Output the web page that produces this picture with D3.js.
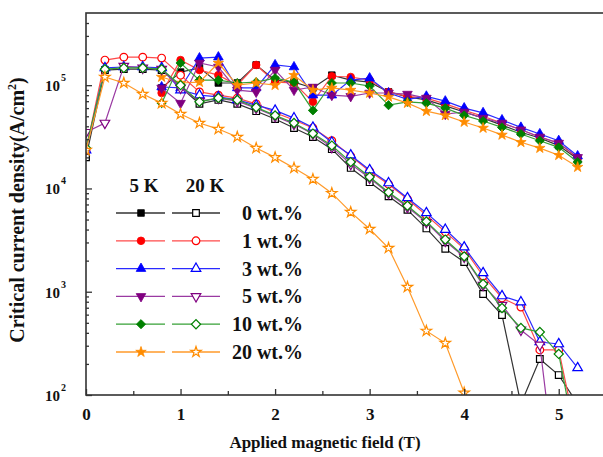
<!DOCTYPE html>
<html>
<head>
<meta charset="utf-8">
<script src="https://cdn.jsdelivr.net/npm/d3@7"></script>
<style>
  body { margin: 0; background: #fff; }
  text { font-family: "Liberation Serif", "Times New Roman", serif; font-weight: bold; fill: #111; }
</style>
</head>
<body>
<div id="chart"></div>
<script>
(function () {

  // field values (T)
  const field20K = [0, 0.2, 0.4, 0.6, 0.8, 1.0, 1.2, 1.4, 1.6, 1.8, 2.0, 2.2, 2.4, 2.6, 2.8, 3.0, 3.2, 3.4, 3.6, 3.8, 4.0, 4.2, 4.4, 4.6, 4.8, 5.0, 5.2]
  const field5K = [0.8, 1.0, 1.2, 1.4, 1.6, 1.8, 2.0, 2.2, 2.4, 2.6, 2.8, 3.0, 3.2, 3.4, 3.6, 3.8, 4.0, 4.2, 4.4, 4.6, 4.8, 5.0, 5.2]

  // Jc at 5 K (A/cm2)
  const jc5K_0 = [9.4e4, 1.34e5, 1.47e5, 1.05e5, 1.05e5, 1.57e5, 1.12e5, 1.07e5, 9.4e4, 1.25e5, 1.12e5, 1.07e5, 8.6e4, 7.7e4, 7.2e4, 6.3e4, 5.5e4, 4.8e4, 4.1e4, 3.5e4, 3.08e4, 2.6e4, 1.93e4]
  const jc5K_1 = [8.4e4, 1.75e5, 1.40e5, 1.25e5, 1.0e5, 1.57e5, 1.07e5, 1.05e5, 6.9e4, 1.22e5, 1.2e5, 1.12e5, 8.6e4, 7.8e4, 7.5e4, 6.6e4, 5.7e4, 5.0e4, 4.3e4, 3.7e4, 3.15e4, 2.75e4, 1.97e4]
  const jc5K_3 = [9.6e4, 9.4e4, 1.83e5, 1.87e5, 9.4e4, 9.4e4, 1.57e5, 1.50e5, 8.0e4, 8.0e4, 1.12e5, 1.17e5, 8.4e4, 7.3e4, 7.8e4, 7.0e4, 6.0e4, 5.4e4, 4.6e4, 3.9e4, 3.37e4, 2.9e4, 2.06e4]
  const jc5K_5 = [9.4e4, 6.7e4, 1.64e5, 1.50e5, 8.97e4, 8.6e4, 1.40e5, 8.97e4, 9.6e4, 8.0e4, 7.8e4, 8.4e4, 8.4e4, 8.2e4, 7.5e4, 5.25e4, 5.5e4, 4.8e4, 4.3e4, 3.7e4, 3.15e4, 2.75e4, 2.0e4]
  const jc5K_10 = [6.7e4, 1.64e5, 1.12e5, 1.12e5, 1.05e5, 1.07e5, 1.17e5, 1.07e5, 5.7e4, 1.05e5, 1.05e5, 9.8e4, 6.4e4, 6.9e4, 6.7e4, 6.0e4, 5.1e4, 4.5e4, 3.9e4, 3.37e4, 2.9e4, 2.5e4, 1.8e4]
  const jc5K_20 = [1.2e5, 1.05e5, 1.07e5, 1.64e5, 1.0e5, 1.05e5, 1.0e5, 1.25e5, 8.97e4, 9.4e4, 8.97e4, 8.4e4, 7.7e4, 6.7e4, 5.6e4, 5.1e4, 4.4e4, 3.85e4, 3.3e4, 2.8e4, 2.46e4, 2.1e4, 1.61e4]

  // Jc at 20 K
  const jc20K_0 = [2.0e4, 1.40e5, 1.43e5, 1.43e5, 1.40e5, 9.6e4, 6.6e4, 7.2e4, 6.6e4, 5.6e4, 4.7e4, 3.85e4, 3.15e4, 2.4e4, 1.58e4, 1.15e4, 8.4e3, 6.2e3, 4.1e3, 2.6e3, 1.94e3, 950, 595, 82, 223, 156, 82]
  const jc20K_1 = [2.35e4, 1.75e5, 1.87e5, 1.87e5, 1.83e5, 1.25e5, 8.6e4, 8.0e4, 7.5e4, 6.6e4, 5.4e4, 4.6e4, 3.85e4, 2.9e4, 2.06e4, 1.47e4, 1.10e4, 7.9e3, 5.5e3, 3.8e3, 2.6e3, 1.42e3, 870, 711, 273, 273, 37]
  const jc20K_3 = [2.35e4, 1.47e5, 1.50e5, 1.50e5, 1.47e5, 8.97e4, 8.0e4, 7.7e4, 7.2e4, 6.4e4, 5.7e4, 4.8e4, 3.9e4, 2.8e4, 2.1e4, 1.51e4, 1.13e4, 8.1e3, 5.8e3, 4.0e3, 2.7e3, 1.52e3, 910, 794, 326, 312, 183]
  const jc20K_5 = [3.5e4, 4.3e4, 1.53e5, 1.47e5, 1.43e5, 9.4e4, 7.0e4, 7.5e4, 7.0e4, 6.0e4, 5.0e4, 4.2e4, 3.37e4, 2.5e4, 1.72e4, 1.26e4, 9.0e3, 6.6e3, 4.7e3, 3.1e3, 2.17e3, 1.16e3, 743, 426, 305, 9.4]
  const jc20K_10 = [2.46e4, 1.43e5, 1.47e5, 1.47e5, 1.43e5, 1.0e5, 6.9e4, 7.5e4, 7.2e4, 6.1e4, 5.1e4, 4.3e4, 3.4e4, 2.6e4, 1.8e4, 1.29e4, 9.2e3, 6.8e3, 4.8e3, 3.2e3, 2.2e3, 1.19e3, 695, 446, 407, 250, 28]
  const jc20K_20 = [2.35e4, 1.2e5, 1.05e5, 8.2e4, 6.7e4, 5.25e4, 4.3e4, 3.76e4, 3.15e4, 2.46e4, 2.0e4, 1.58e4, 1.23e4, 9.0e3, 5.9e3, 4.05e3, 2.65e3, 1.11e3, 417, 318, 105]

  const labels = ['0 wt.%', '1 wt.%', '3 wt.%', '5 wt.%', '10 wt.%', '20 wt.%']
  const xTicks = [0, 1, 2, 3, 4, 5]
  const yTicks = [1e2, 1e3, 1e4, 1e5]

  const markerColors = ['#000000', '#ff0000', '#0000ff', '#800080', '#008000', '#ff8c00']
  const lineColors = ['#333333', '#ff4a4a', '#2a2aff', '#9a3aa2', '#36a036', '#ff9a2a']
  const shapes = ['square', 'circle', 'up', 'down', 'diamond', 'star']
  const jc5 = [jc5K_0, jc5K_1, jc5K_3, jc5K_5, jc5K_10, jc5K_20]
  const jc20 = [jc20K_0, jc20K_1, jc20K_3, jc20K_5, jc20K_10, jc20K_20]

  // Margin convention
  const margin = { top: 13, left: 86 }
  const width = 520
  const height = 382

  const svg = d3.select('#chart').append('svg')
      .attr('width', 603)
      .attr('height', 457)

  const g = svg.append('g')
      .attr('transform', 'translate(' + margin.left + ',' + margin.top + ')')

  const x = d3.scaleLinear().domain([0, 5.5]).range([0, width])
  const y = d3.scaleLog().domain([1e2, 5e5]).range([height, 0])

  svg.append('defs').append('clipPath').attr('id', 'plot')
    .append('rect').attr('width', width).attr('height', height)

  const symbols = {
    square: { type: d3.symbolSquare, size: 44, rot: 0 },
    circle: { type: d3.symbolCircle, size: 46, rot: 0 },
    up: { type: d3.symbolTriangle, size: 40, rot: 0 },
    down: { type: d3.symbolTriangle, size: 40, rot: 180 },
    diamond: { type: d3.symbolSquare, size: 42, rot: 45 },
    star: { type: d3.symbolStar, size: 34, rot: 0 }
  }

  function drawMarker (sel, shape, color, open) {
    const s = symbols[shape]
    sel.append('path')
      .attr('d', d3.symbol().type(s.type).size(s.size)())
      .attr('transform', 'rotate(' + s.rot + ')')
      .attr('fill', open ? '#ffffff' : color)
      .attr('stroke', color)
      .attr('stroke-width', open ? 1.2 : 0.8)
  }

  const line = d3.line()
    .x(d => x(d.b))
    .y(d => y(d.jc))

  const series = []
  labels.forEach((lab, i) => {
    series.push({ i: i, open: false, pts: jc5[i].map((v, k) => ({ b: field5K[k], jc: v })) })
  })
  labels.forEach((lab, i) => {
    series.push({ i: i, open: true, pts: jc20[i].map((v, k) => ({ b: field20K[k], jc: v })) })
  })

  const plot = g.append('g').attr('clip-path', 'url(#plot)')

  series.forEach(s => {
    const sg = plot.append('g')
    sg.append('path')
      .attr('d', line(s.pts))
      .attr('fill', 'none')
      .attr('stroke', lineColors[s.i])
      .attr('stroke-width', 1.2)

    sg.selectAll('g.pt')
      .data(s.pts.filter(d => d.jc >= 100))
      .join('g')
      .attr('class', 'pt')
      .attr('transform', d => 'translate(' + x(d.b) + ',' + y(d.jc) + ')')
      .each(function () {
        drawMarker(d3.select(this), shapes[s.i], markerColors[s.i], s.open)
      })
  })

  // axes
  const minorY = []
  for (let e = 2; e <= 5; e++) {
    for (let m = 2; m <= 9; m++) {
      const v = m * Math.pow(10, e)
      if (v < 5e5) minorY.push(v)
    }
  }

  g.append('g')
    .call(d3.axisLeft(y).tickValues(minorY).tickSize(-3).tickFormat(''))
  g.append('g')
    .call(d3.axisLeft(y).tickValues(yTicks).tickSize(-6).tickFormat(''))

  g.append('g')
    .attr('transform', 'translate(0,' + height + ')')
    .call(d3.axisBottom(x).tickValues([0.5, 1.5, 2.5, 3.5, 4.5, 5.5]).tickSize(-4).tickFormat(''))
  g.append('g')
    .attr('transform', 'translate(0,' + height + ')')
    .call(d3.axisBottom(x).tickValues(xTicks).tickSize(-6).tickPadding(13).tickFormat(d3.format('d')))

  g.selectAll('.domain').remove()
  g.selectAll('.tick line').attr('stroke', '#333').attr('stroke-width', 1.3)
  g.selectAll('.tick text')
    .attr('font-family', '"Liberation Serif", serif')
    .attr('font-weight', 'bold')
    .attr('font-size', 17)
    .attr('fill', '#111')

  // frame
  g.append('rect')
    .attr('width', width)
    .attr('height', height)
    .attr('fill', 'none')
    .attr('stroke', '#333')
    .attr('stroke-width', 1.6)

  // y tick labels 10^n
  yTicks.forEach(v => {
    g.append('text')
      .attr('x', -26)
      .attr('y', y(v))
      .attr('dy', '0.4em')
      .attr('text-anchor', 'end')
      .attr('font-size', 15)
      .text('10')
    g.append('text')
      .attr('x', -25)
      .attr('y', y(v) - 4)
      .attr('font-size', 10)
      .text(Math.round(Math.log10(v)))
  })

  // axis titles
  svg.append('text')
    .attr('x', 325)
    .attr('y', 448)
    .attr('text-anchor', 'middle')
    .attr('font-size', 17)
    .text('Applied magnetic field (T)')

  const yt = svg.append('text')
    .attr('transform', 'translate(24,210) rotate(-90)')
    .attr('text-anchor', 'middle')
    .attr('font-size', 20)
  yt.append('tspan').text('Critical current density(A/cm')
  yt.append('tspan').attr('font-size', 12).attr('dy', -8).text('2')
  yt.append('tspan').attr('dy', 8).text(')')

  // legend
  const legend = svg.append('g')
  legend.append('text').attr('x', 144).attr('y', 192).attr('text-anchor', 'middle').attr('font-size', 19).text('5 K')
  legend.append('text').attr('x', 205).attr('y', 192).attr('text-anchor', 'middle').attr('font-size', 19).text('20 K')

  labels.forEach((lab, i) => {
    const ry = 213 + i * 27.8
    const row = legend.append('g').attr('transform', 'translate(0,' + ry + ')')
    row.append('line').attr('x1', 116).attr('x2', 165).attr('stroke', lineColors[i]).attr('stroke-width', 1.3)
    row.append('line').attr('x1', 172).attr('x2', 220).attr('stroke', lineColors[i]).attr('stroke-width', 1.3)
    drawMarker(row.append('g').attr('transform', 'translate(141,0)'), shapes[i], markerColors[i], false)
    drawMarker(row.append('g').attr('transform', 'translate(196,0)'), shapes[i], markerColors[i], true)
    row.append('text')
      .attr('x', 303)
      .attr('dy', '0.35em')
      .attr('text-anchor', 'end')
      .attr('font-size', 20)
      .text(lab)
  })
})();
</script>
</body>
</html>
